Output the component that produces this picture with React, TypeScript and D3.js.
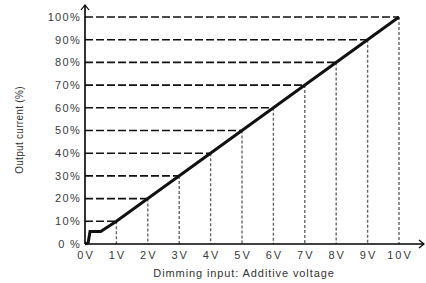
import React from 'react';
import { scaleLinear, line } from 'd3';

// tick values and labels
const voltTicks = [0, 1, 2, 3, 4, 5, 6, 7, 8, 9, 10];
const voltLabels = ['0V', '1V', '2V', '3V', '4V', '5V', '6V', '7V', '8V', '9V', '10V'];
const pctTicks = [0, 10, 20, 30, 40, 50, 60, 70, 80, 90, 100];
const pctLabels = ['0 %', '10%', '20%', '30%', '40%', '50%', '60%', '70%', '80%', '90%', '100%'];

// dimming curve (volts -> output %)
const curveVolts = [0, 0.1, 0.16, 0.5, 1, 10];
const curvePct = [0, 0.5, 5.5, 5.5, 10, 100];

// guide points where the dashed lines meet the curve
const guideVolts = [1, 2, 3, 4, 5, 6, 7, 8, 9, 10];
const guidePct = [10, 20, 30, 40, 50, 60, 70, 80, 90, 100];

const W = 426;
const H = 283;

export default function App() {
  const x = scaleLinear().domain([0, 10]).range([85, 399]);
  const y = scaleLinear().domain([0, 100]).range([244, 17]);

  const pts: [number, number][] = curveVolts.map((v, i) => [v, curvePct[i]]);
  const curve = line<[number, number]>()
    .x(d => x(d[0]))
    .y(d => y(d[1]));

  const x0 = x(0);
  const y0 = y(0);
  const font = 'Arial, "Liberation Sans", sans-serif';

  return (
    <svg
      width={W}
      height={H}
      style={{ position: 'absolute', left: 0, top: 0, background: '#fff' }}
    >
      {/* horizontal guides */}
      {guidePct.map((p, i) => (
        <line
          key={'h' + p}
          x1={x0}
          x2={x(guideVolts[i])}
          y1={y(p)}
          y2={y(p)}
          stroke="#111"
          strokeWidth={1.6}
          strokeDasharray="8,3"
        />
      ))}

      {/* vertical guides */}
      {guideVolts.map((v, i) => (
        <line
          key={'v' + v}
          x1={x(v)}
          x2={x(v)}
          y1={y(guidePct[i])}
          y2={y0}
          stroke="#333"
          strokeWidth={1.4}
          strokeDasharray="3,2"
          opacity={0.75}
        />
      ))}

      {/* axes */}
      <line x1={x0} x2={x0} y1={y0} y2={5} stroke="#000" strokeWidth={1.6} />
      <path d={`M${x0 - 4},${10} L${x0},${5} L${x0 + 4},${10}`} fill="none" stroke="#000" strokeWidth={1.2} />
      <line x1={x0} x2={424} y1={y0} y2={y0} stroke="#000" strokeWidth={1.6} />
      <path d={`M${419},${y0 - 4} L${424},${y0} L${419},${y0 + 4}`} fill="none" stroke="#000" strokeWidth={1.2} />

      {/* curve */}
      <path d={curve(pts) || ''} fill="none" stroke="#111" strokeWidth={3} strokeLinejoin="miter" />

      {/* y tick labels */}
      {pctTicks.map((p, i) => (
        <text
          key={'yl' + p}
          x={81}
          y={y(p)}
          dy="0.35em"
          textAnchor="end"
          fontFamily={font}
          fontSize={11}
          fill="#3a3a3a"
          letterSpacing={1.3}
        >
          {pctLabels[i]}
        </text>
      ))}

      {/* x tick labels */}
      {voltTicks.map((v, i) => (
        <text
          key={'xl' + v}
          x={x(v) + 1}
          y={259}
          textAnchor="middle"
          fontFamily={font}
          fontSize={11}
          fill="#3a3a3a"
          letterSpacing={2}
        >
          {voltLabels[i]}
        </text>
      ))}

      {/* axis titles */}
      <text
        x={244}
        y={277}
        textAnchor="middle"
        fontFamily={font}
        fontSize={11}
        fill="#333"
        letterSpacing={0.9}
      >
        Dimming input: Additive voltage
      </text>
      <text
        transform={`translate(23,130) rotate(-90)`}
        textAnchor="middle"
        fontFamily={font}
        fontSize={10}
        fill="#333"
        letterSpacing={0.3}
      >
        Output current (%)
      </text>
    </svg>
  );
}
